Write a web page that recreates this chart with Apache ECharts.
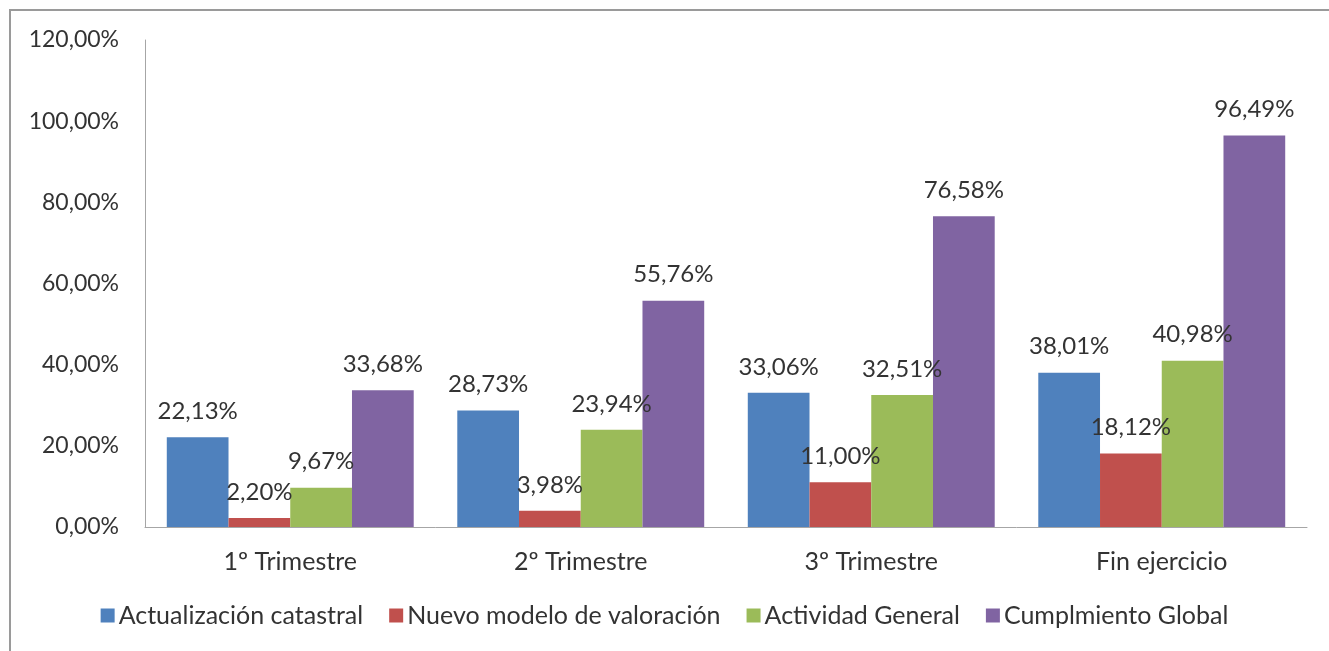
<!DOCTYPE html>
<html>
<head>
<meta charset="utf-8">
<script src="https://cdn.jsdelivr.net/npm/echarts@6/dist/echarts.min.js"></script>
<style>
  html, body { margin: 0; padding: 0; background: #fff; }
  #chart { width: 1329px; height: 651px; }
</style>
</head>
<body>
<div id="chart"></div>
<script>
// categorías y series
const categories = ['1º Trimestre', '2º Trimestre', '3º Trimestre', 'Fin ejercicio'];
const seriesNames = ['Actualización catastral', 'Nuevo modelo de valoración', 'Actividad General', 'Cumplmiento Global'];
const actualizacion = [22.13, 28.73, 33.06, 38.01];
const nuevoModelo = [2.20, 3.98, 11.00, 18.12];
const actividad = [9.67, 23.94, 32.51, 40.98];
const cumplimiento = [33.68, 55.76, 76.58, 96.49];
const colors = ['#4F81BD', '#C0504D', '#9BBB59', '#8064A2'];

const fontFamily = 'Lato, "Open Sans", sans-serif';
const fmt = (v) => v.toFixed(2).replace('.', ',') + '%';

const chart = echarts.init(document.getElementById('chart'), null, { renderer: 'canvas' });

const makeSeries = (name, data, i) => ({
  name: name,
  type: 'bar',
  data: data,
  barGap: '0%',
  barCategoryGap: '15%',
  itemStyle: { color: colors[i] },
  label: {
    show: true,
    position: 'top',
    distance: 14,
    color: '#333',
    fontSize: 24,
    fontFamily: fontFamily,
    formatter: (p) => fmt(p.value),
  },
});

chart.setOption({
  animation: false,
  color: colors,
  textStyle: { fontFamily: fontFamily },
  grid: { left: 145, right: 22, top: 40, bottom: 124, containLabel: false },
  legend: {
    bottom: 18,
    left: 'center',
    itemWidth: 14,
    itemHeight: 14,
    itemGap: 26,
    icon: 'rect',
    textStyle: { fontSize: 25, color: '#333', fontFamily: fontFamily, padding: [0, 0, 0, -1] },
    data: seriesNames,
  },
  xAxis: {
    type: 'category',
    data: categories,
    axisTick: { show: false },
    axisLine: { lineStyle: { color: '#a6a6a6' } },
    axisLabel: { fontSize: 25, color: '#333', margin: 22 },
  },
  yAxis: {
    type: 'value',
    min: 0,
    max: 120,
    interval: 20,
    splitLine: { show: false },
    axisLine: { show: true, lineStyle: { color: '#a6a6a6' } },
    axisTick: { show: false },
    axisLabel: { fontSize: 23, color: '#333', margin: 26, formatter: (v) => fmt(v) },
  },
  graphic: [
    {
      type: 'polyline',
      shape: { points: [[10, 651], [10, 10], [1329, 10]] },
      style: { stroke: '#9a9a9a', lineWidth: 2, fill: null },
      silent: true,
    },
  ],
  series: [
    makeSeries(seriesNames[0], actualizacion, 0),
    makeSeries(seriesNames[1], nuevoModelo, 1),
    makeSeries(seriesNames[2], actividad, 2),
    makeSeries(seriesNames[3], cumplimiento, 3),
  ],
});
</script>
</body>
</html>
